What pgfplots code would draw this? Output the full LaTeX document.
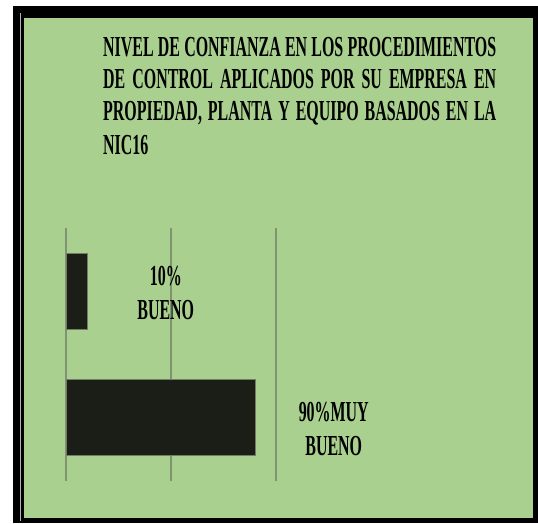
\documentclass[border=0pt]{standalone}
\usepackage{pgfplots}
\pgfplotsset{compat=1.18}
\usepackage{fontspec}
\setmainfont{Liberation Serif}
\newfontfamily\condfont[FakeStretch=0.55]{Liberation Serif}
\definecolor{bggreen}{RGB}{169,208,142}
\definecolor{bardark}{RGB}{27,30,22}
\definecolor{barline}{RGB}{110,125,100}
\definecolor{gridc}{RGB}{128,148,116}
\begin{document}
\begin{tikzpicture}[x=1pt,y=1pt]
\path[fill=white] (0,0) rectangle (538,524);
% frame
\fill[black] (13,1) rectangle (538,518);
\fill[bggreen] (24,6) rectangle (533,506);
\draw[gray!60, line width=0.8pt] (20,3) -- (20,511);
% title
\begin{scope}[every node/.style={inner sep=0pt, anchor=base west, font={\condfont\bfseries\fontsize{29}{32}\selectfont}}]
\node at (103,467) {\makebox[393pt][s]{NIVEL DE CONFIANZA EN LOS PROCEDIMIENTOS}};
\node at (103,435) {\makebox[393pt][s]{DE CONTROL APLICADOS POR SU EMPRESA EN}};
\node at (103,403) {\makebox[393pt][s]{PROPIEDAD, PLANTA Y EQUIPO BASADOS EN LA}};
\node at (103,369) {NIC16};
\end{scope}
\begin{axis}[
  at={(66pt,43pt)}, anchor=south west,
  scale only axis, width=210pt, height=253pt,
  xmin=0, xmax=100, ymin=-0.5, ymax=1.5,
  xbar, bar width=76pt,
  xtick={0,50,100}, ytick=\empty,
  xticklabels={},
  xmajorgrids, grid style={gridc, line width=1.3pt},
  axis line style={draw=none}, tick style={draw=none},
  clip=false,
]
\addplot[fill=bardark, draw=barline, line width=0.8pt] coordinates {(10,1) (90,0)};
\node[align=center, font={\condfont\bfseries\fontsize{29}{34}\selectfont}] at (axis cs:47.5,0.99) {10\%\\BUENO};
\node[align=center, font={\condfont\bfseries\fontsize{29}{34}\selectfont}] at (axis cs:127.5,-0.09) {90\%MUY\\BUENO};
\end{axis}
\end{tikzpicture}
\end{document}
